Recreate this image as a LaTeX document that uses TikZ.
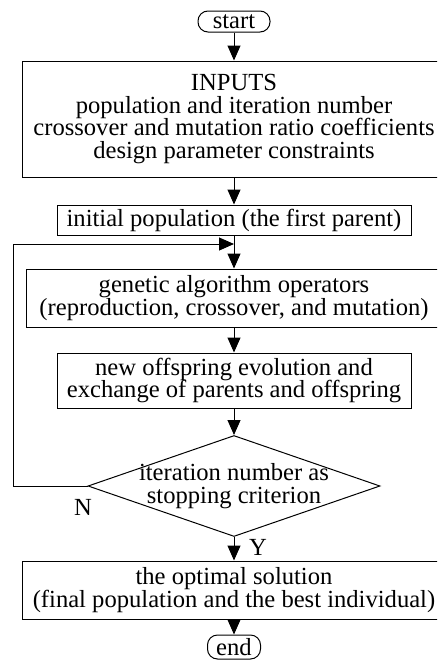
\documentclass[tikz,border=0pt]{standalone}
\usepackage{fontspec}
\setmainfont{Liberation Serif}
\usetikzlibrary{arrows.meta,shapes.geometric}
\begin{document}
\begin{tikzpicture}[x=1pt,y=-1pt,
  txt/.style={font=\fontsize{24.6}{22.7}\selectfont},
  box/.style={txt,draw,line width=1pt,inner sep=0pt,align=center},
  term/.style={box,rounded corners=10pt},
  conn/.style={line width=1pt,-{Triangle[length=15pt,width=13pt]}},
  lab/.style={txt,inner sep=0pt,align=center}]
\useasboundingbox (0,0) rectangle (437,667);
\clip (0,0) rectangle (437,667);
\node[term,minimum width=72pt,minimum height=21pt] (start) at (234,21.5) {start};
\node[box,minimum width=424pt,minimum height=116pt] (inputs) at (234,119) {INPUTS\\population and iteration number\\crossover and mutation ratio coefficients\\design parameter constraints};
\node[box,minimum width=354pt,minimum height=30pt] (initial) at (234,220) {initial population (the first parent)};
\node[box,minimum width=416pt,minimum height=58pt] (genetic) at (234,298) {genetic algorithm operators\\(reproduction, crossover, and mutation)};
\node[box,minimum width=354pt,minimum height=55pt] (offspring) at (234,380.5) {new offspring evolution and\\exchange of parents and offspring};
\node[diamond,draw,line width=1pt,minimum width=292pt,minimum height=101pt,inner sep=0pt] (dia) at (234,486) {};
\node[lab] (dtext) at (234,486) {iteration number as\\stopping criterion};
\node[box,minimum width=424pt,minimum height=58pt] (final) at (234,590) {the optimal solution\\(final population and the best individual)};
\node[term,minimum width=53pt,minimum height=24pt] (end) at (234,647) {end};
\node[lab] (nlab) at (83,507) {N};
\node[lab] (ylab) at (258,547) {Y};
\coordinate (merge) at (234,244);
\coordinate (loopx) at (13,244);
\draw[conn] (start) -- (inputs);
\draw[conn] (inputs) -- (initial);
\draw[conn] (initial) -- (genetic);
\draw[conn] (genetic) -- (offspring);
\draw[conn] (offspring) -- (dia);
\draw[conn] (dia) -- (final);
\draw[conn] (final) -- (end);
\draw[conn] (dia.west) -| (loopx) -- (merge);
\end{tikzpicture}
\end{document}
